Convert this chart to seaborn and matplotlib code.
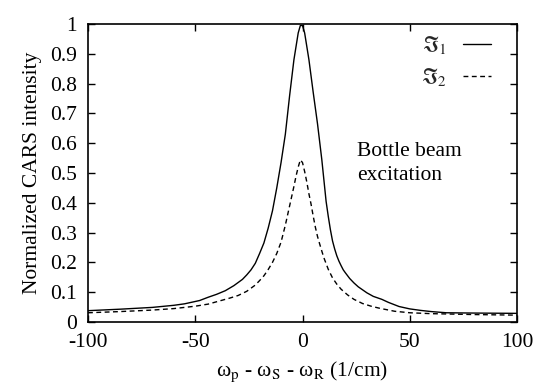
import matplotlib
matplotlib.use("Agg")
import matplotlib.pyplot as plt
import seaborn as sns
import pandas as pd

# ---- data ----
x_solid = [-100, -85, -70, -60, -55, -48, -44, -40, -36, -32, -28, -26, -24, -22, -20,
           -18, -16, -14, -12, -10, -8, -6, -4, -2, -1, 0, 1, 3, 5, 7, 9, 10, 11, 12,
           13, 14, 15, 16, 17, 18, 19, 20, 22, 24, 26, 30, 33, 37, 40, 45, 50, 55, 60,
           67, 80, 100]
y_solid = [0.038, 0.043, 0.049, 0.056, 0.061, 0.072, 0.083, 0.093, 0.105, 0.122, 0.143,
           0.158, 0.175, 0.197, 0.230, 0.265, 0.315, 0.373, 0.450, 0.535, 0.630, 0.760,
           0.880, 0.970, 0.995, 0.995, 0.970, 0.880, 0.770, 0.665, 0.545, 0.475, 0.405,
           0.355, 0.310, 0.272, 0.245, 0.222, 0.204, 0.189, 0.175, 0.165, 0.146, 0.131,
           0.118, 0.098, 0.086, 0.076, 0.066, 0.052, 0.044, 0.039, 0.035, 0.031, 0.030,
           0.029]

x_dash = [-100, -85, -70, -60, -50, -44, -38, -34, -30, -26, -22, -20, -18, -16, -14,
          -12, -10, -8, -6, -4, -3, -2, -1, 0, 1, 2, 3, 4, 5, 6, 7, 8, 9, 10, 12, 14,
          16, 18, 21, 24, 28, 32, 36, 43, 50, 60, 67, 80, 100]
y_dash = [0.031, 0.035, 0.040, 0.045, 0.053, 0.060, 0.072, 0.080, 0.089, 0.103, 0.124,
          0.139, 0.155, 0.176, 0.200, 0.230, 0.268, 0.325, 0.390, 0.455, 0.490, 0.520,
          0.544, 0.535, 0.505, 0.470, 0.430, 0.395, 0.355, 0.318, 0.287, 0.262, 0.238,
          0.215, 0.177, 0.148, 0.127, 0.110, 0.091, 0.076, 0.062, 0.053, 0.046, 0.036,
          0.031, 0.028, 0.027, 0.025, 0.023]

series_labels = [r"$\Im_1$", r"$\Im_2$"]
x_ticks = [-100, -50, 0, 50, 100]
x_tick_labels = ["-100", "-50", "0", "50", "100"]
y_ticks = [0, 0.1, 0.2, 0.3, 0.4, 0.5, 0.6, 0.7, 0.8, 0.9, 1.0]
y_tick_labels = ["0", "0.1", "0.2", "0.3", "0.4", "0.5", "0.6", "0.7", "0.8", "0.9", "1"]
x_label = "ω$_\\mathrm{p}$ - ω$_\\mathrm{S}$ - ω$_\\mathrm{R}$ (1/cm)"
y_label = "Normalized CARS intensity"
annotation = "Bottle beam\nexcitation"

# ---- style ----
sns.set_style("ticks")
plt.rcParams["font.family"] = ["Liberation Serif", "DejaVu Serif"]
plt.rcParams["mathtext.fontset"] = "stix"
FS = 15.5

fig = plt.figure(figsize=(5.38, 3.85), dpi=100)
ax = fig.add_axes([88 / 538, 63 / 385, 429 / 538, 298 / 385])

df1 = pd.DataFrame({"x": x_solid, "y": y_solid})
df2 = pd.DataFrame({"x": x_dash, "y": y_dash})
sns.lineplot(data=df1, x="x", y="y", ax=ax, color="black", lw=1.0,
             label=series_labels[0], sort=False)
sns.lineplot(data=df2, x="x", y="y", ax=ax, color="black", lw=1.0,
             label=series_labels[1], sort=False, dashes=False)
ax.lines[1].set_dashes([3.5, 2.5])

ax.set_xlim(-100, 100)
ax.set_ylim(0, 1)
ax.set_xticks(x_ticks)
ax.set_xticklabels(x_tick_labels)
ax.set_yticks(y_ticks)
ax.set_yticklabels(y_tick_labels)
ax.tick_params(direction="in", length=5, width=1.0, top=True, right=True,
               labelsize=FS, color="black", labelcolor="black")
ax.tick_params(axis="x", pad=8)
ax.tick_params(axis="y", pad=8)
for s in ax.spines.values():
    s.set_linewidth(1.2)
    s.set_color("black")
    s.set_visible(True)

ax.set_xlabel(x_label, fontsize=FS, labelpad=5, color="black")
ax.set_ylabel(y_label, fontsize=FS, labelpad=6, color="black")

ax.text(25.3, 0.477, annotation, fontsize=FS, ha="left", va="baseline",
        linespacing=1.35, color="black")

leg = ax.legend(loc="upper right", bbox_to_anchor=(0.94, 0.965), frameon=False,
                markerfirst=False, fontsize=FS, handlelength=1.3,
                handletextpad=0.75, labelspacing=0.45, borderpad=0, borderaxespad=0)

fig.savefig("out.png", dpi=100)
